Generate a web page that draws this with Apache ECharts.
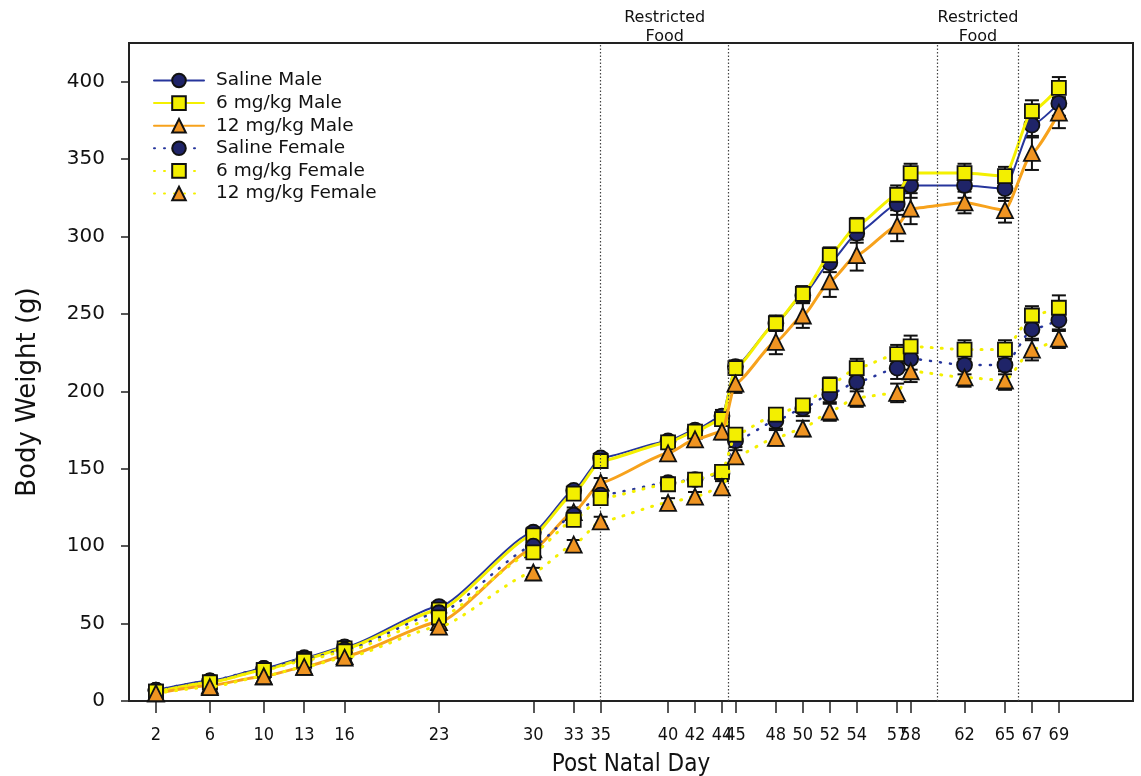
<!DOCTYPE html>
<html><head><meta charset="utf-8">
<script src="https://cdn.jsdelivr.net/npm/echarts@6/dist/echarts.min.js"></script>
<style>html,body{margin:0;padding:0;background:#fff}#c{width:1141px;height:776px}</style>
</head><body><div id="c"></div>
<script>
// ---- data ----
const days = [2,6,10,13,16,23,30,33,35,40,42,44,45,48,50,52,54,57,58,62,65,67,69];
const xTickDays = [2,6,10,13,16,23,30,33,35,40,42,44,45,48,50,52,54,57,58,62,65,67,69];
const yTicks = [0,50,100,150,200,250,300,350,400];
const restrictedPeriods = [[35,44.5],[60,66]];

const salineMale   = [7,13,21,28,35,61,109,136,157,168,175,184,216,244,262,283,302,321,333,333,331,372,386];
const sixMale      = [6,12,20,27,34,59,107,134,155,167,174,182,215,244,263,288,307,327,341,341,339,381,396];
const twelveMale   = [5,10,16,22,29,51,98,122,141,160,169,174,205,232,249,271,288,307,318,322,317,354,380];
const salineFemale = [7,13,21,27,33,57,100,120,133,141,143,147,168,181,189,198,206,215,221,217,217,240,246];
const sixFemale    = [6,12,20,26,32,54,96,117,131,140,143,148,172,185,191,204,215,224,229,227,227,249,254];
const twelveFemale = [5,9,16,22,28,48,83,101,116,128,132,138,158,170,176,187,196,199,213,209,207,227,234];

const salineMaleErr   = [1,1,1,2,2,2,3,3,3,3,3,4,4,5,5,6,6,7,8,8,8,8,8];
const sixMaleErr      = [1,1,1,2,2,2,3,3,3,3,3,4,4,4,5,5,5,6,6,6,6,7,7];
const twelveMaleErr   = [1,1,1,2,2,2,3,3,3,4,4,5,6,8,8,10,10,10,10,7,8,11,10];
const salineFemaleErr = [1,1,1,2,2,2,3,3,3,3,3,4,4,5,5,6,6,7,7,6,6,7,7];
const sixFemaleErr    = [1,1,1,2,2,2,3,3,3,3,3,4,4,4,4,5,6,6,7,6,6,6,8];
const twelveFemaleErr = [1,1,1,2,2,2,3,3,3,3,3,4,4,5,5,6,6,6,7,6,6,7,6];

// ---- styles ----
const NAVY = '#1f2468', BLUE_LINE = '#26359c', YEL = '#f3ef00', YEL_LINE = '#f4f000', ORA = '#ef9422', ORA_LINE = '#f7a21c';
const FONT = 'DejaVu Sans';
const COND = 'DejaVu Sans Condensed';

const defs = [
  {name:'Saline Male', vals:salineMale, err:salineMaleErr, symbol:'circle', fill:NAVY, line:BLUE_LINE, w:2, dash:'solid'},
  {name:'6 mg/kg Male', vals:sixMale, err:sixMaleErr, symbol:'rect', fill:YEL, line:YEL_LINE, w:3, dash:'solid'},
  {name:'12 mg/kg Male', vals:twelveMale, err:twelveMaleErr, symbol:'triangle', fill:ORA, line:ORA_LINE, w:3, dash:'solid'},
  {name:'Saline Female', vals:salineFemale, err:salineFemaleErr, symbol:'circle', fill:NAVY, line:BLUE_LINE, w:2.5, dash:[1,9]},
  {name:'6 mg/kg Female', vals:sixFemale, err:sixFemaleErr, symbol:'rect', fill:YEL, line:YEL_LINE, w:3, dash:[1,9]},
  {name:'12 mg/kg Female', vals:twelveFemale, err:twelveFemaleErr, symbol:'triangle', fill:ORA, line:YEL_LINE, w:3, dash:[1,9]}
];

function renderErr(params, api){
  const x = api.value(0), v = api.value(1), e = api.value(2);
  const top = api.coord([x, v + e]), bot = api.coord([x, v - e]);
  const w = 7;
  const st = {stroke:'#111', lineWidth:2};
  return {type:'group', children:[
    {type:'line', shape:{x1:top[0], y1:top[1], x2:bot[0], y2:bot[1]}, style:st},
    {type:'line', shape:{x1:top[0]-w, y1:top[1], x2:top[0]+w, y2:top[1]}, style:st},
    {type:'line', shape:{x1:bot[0]-w, y1:bot[1], x2:bot[0]+w, y2:bot[1]}, style:st}
  ]};
}

const series = [];
defs.forEach(d => {
  series.push({
    type:'custom', name:d.name + ' err', renderItem:renderErr, z:1, silent:true,
    data: days.map((x,i) => [x, d.vals[i], d.err[i]])
  });
});
defs.forEach((d, k) => {
  const s = {
    type:'line', name:d.name, z:3 + k,
    data: days.map((x,i) => [x, d.vals[i]]),
    smooth:0.18, smoothMonotone:'x',
    symbol:d.symbol, symbolSize: d.symbol==='rect' ? 14 : (d.symbol==='triangle' ? 16 : 15),
    showAllSymbol:true,
    itemStyle:{color:d.fill, borderColor:'#111', borderWidth:1.8},
    lineStyle:{color:d.line, width:d.w, type:d.dash, cap:'round'},
    emphasis:{disabled:true}
  };
  if (k === 0) {
    s.markLine = {
      silent:true, symbol:['none','none'], label:{show:false},
      lineStyle:{type:[1.5,2], color:'#444', width:1.2},
      data: restrictedPeriods.flat().map(x => ({xAxis:x}))
    };
    s.markArea = {
      silent:true,
      itemStyle:{color:'rgba(0,0,0,0)'},
      label:{show:true, position:'top', distance:-3, formatter:'Restricted\nFood',
             fontFamily:FONT, fontSize:16, lineHeight:19, color:'#111'},
      data: restrictedPeriods.map(([a,b]) => [{xAxis:a},{xAxis:b}])
    };
  }
  series.push(s);
});

const chart = echarts.init(document.getElementById('c'), null, {renderer:'canvas'});
chart.setOption({
  backgroundColor:'#fff',
  animation:false,
  grid:{left:129, right:8, top:43, bottom:75, show:true, borderColor:'#222', borderWidth:2,
        backgroundColor:'transparent', containLabel:false, outerBoundsMode:'none'},
  legend:{
    orient:'vertical', left:153, top:71, padding:0, itemWidth:50, itemHeight:17, itemGap:3.6,
    data: defs.map(d => d.name),
    textStyle:{fontFamily:FONT, fontSize:18.5, lineHeight:17, color:'#111', padding:[0,0,0,7]},
    selectedMode:false
  },
  xAxis:{
    type:'value', min:0, max:74.5,
    name:'Post Natal Day', nameLocation:'middle', nameGap:52,
    nameTextStyle:{fontFamily:COND, fontSize:24, color:'#111'},
    axisLine:{show:true, onZero:false, lineStyle:{color:'#222', width:2}},
    axisTick:{show:true, inside:false, length:12, lineStyle:{color:'#222', width:1.5}, customValues:xTickDays},
    axisLabel:{show:true, margin:25, fontFamily:COND, fontSize:18, color:'#111', customValues:xTickDays, hideOverlap:false},
    splitLine:{show:false}
  },
  yAxis:{
    type:'value', min:0, max:425,
    name:'Body Weight (g)', nameLocation:'middle', nameGap:88, nameRotate:90,
    nameTextStyle:{fontFamily:FONT, fontSize:26, color:'#111', padding:[0,40,0,0]},
    axisLine:{show:true, lineStyle:{color:'#222', width:2}},
    axisTick:{show:true, inside:false, length:8, lineStyle:{color:'#222', width:1.5}, customValues:yTicks},
    axisLabel:{show:true, margin:24, fontFamily:FONT, fontSize:20, color:'#111', customValues:yTicks},
    splitLine:{show:false}
  },
  series: series
});
</script></body></html>
